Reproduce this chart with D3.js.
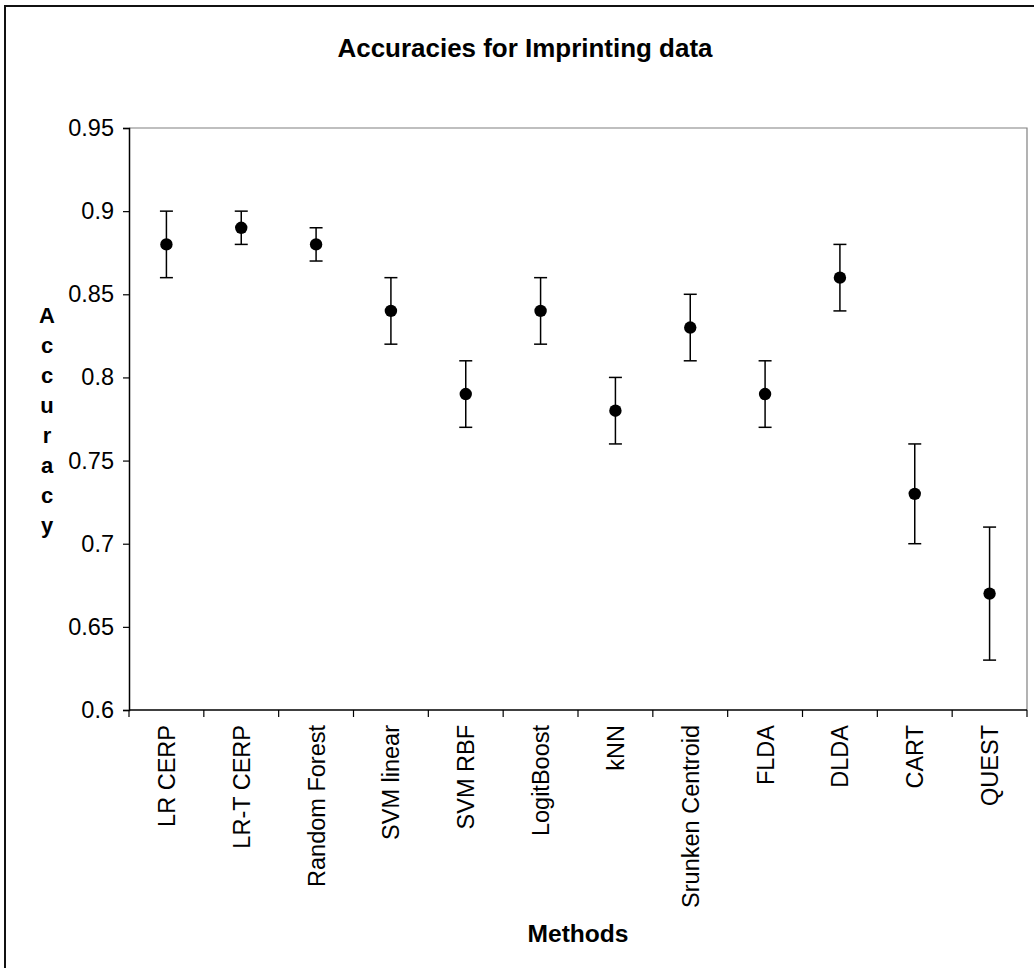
<!DOCTYPE html>
<html>
<head>
<meta charset="utf-8">
<script src="https://cdn.jsdelivr.net/npm/d3@7"></script>
<style>
  html, body { margin: 0; padding: 0; background: #fff; }
  svg { display: block; font-family: Arial, "Liberation Sans", sans-serif; }
</style>
</head>
<body>
<svg id="chart" width="1034" height="968"></svg>
<script>
// Classification accuracy per method, with lower/upper interval bounds
const methods = ["LR CERP", "LR-T CERP", "Random Forest", "SVM linear", "SVM RBF", "LogitBoost",
                 "kNN", "Srunken Centroid", "FLDA", "DLDA", "CART", "QUEST"];
const accuracy = [0.88, 0.89, 0.88, 0.84, 0.79, 0.84, 0.78, 0.83, 0.79, 0.86, 0.73, 0.67];
const lower    = [0.86, 0.88, 0.87, 0.82, 0.77, 0.82, 0.76, 0.81, 0.77, 0.84, 0.70, 0.63];
const upper    = [0.90, 0.90, 0.89, 0.86, 0.81, 0.86, 0.80, 0.85, 0.81, 0.88, 0.76, 0.71];
const yTicks   = [0.6, 0.65, 0.7, 0.75, 0.8, 0.85, 0.9, 0.95];

const svg = d3.select("#chart");
const plot = { left: 129, right: 1027, top: 128, bottom: 710 };

// Outer frame (right and bottom edges lie beyond the visible area)
svg.append("rect")
  .attr("x", 5).attr("y", 6).attr("width", 1040).attr("height", 980)
  .attr("fill", "none").attr("stroke", "#111").attr("stroke-width", 2);

const x = d3.scaleBand().domain(methods).range([plot.left, plot.right]).padding(0);
const y = d3.scaleLinear().domain([0.6, 0.95]).range([plot.bottom, plot.top]);

// Plot frame: top and right edges in grey
svg.append("path")
  .attr("d", `M${plot.left},${plot.top}H${plot.right}V${plot.bottom}`)
  .attr("fill", "none").attr("stroke", "#808080").attr("stroke-width", 1.2);

// Y axis
const yAxis = svg.append("g")
  .attr("transform", `translate(${plot.left},0)`)
  .call(d3.axisLeft(y).tickValues(yTicks).tickSize(6).tickPadding(9)
        .tickFormat(d => String(+d.toFixed(2))));
yAxis.select(".domain").attr("stroke", "#000").attr("stroke-width", 1.5);
yAxis.selectAll(".tick line").attr("stroke", "#000").attr("stroke-width", 1.2);
yAxis.selectAll(".tick text")
  .attr("font-size", 23.5).attr("fill", "#000")
  .attr("font-family", "Arial, 'Liberation Sans', sans-serif");

// X axis: ticks at category boundaries
const xAxisG = svg.append("g");
xAxisG.append("line")
  .attr("x1", plot.left).attr("x2", plot.right)
  .attr("y1", plot.bottom).attr("y2", plot.bottom)
  .attr("stroke", "#000").attr("stroke-width", 1.5);
const bounds = methods.map(m => x(m)).concat([x(methods[methods.length - 1]) + x.bandwidth()]);
xAxisG.selectAll("line.tick").data(bounds).join("line")
  .attr("class", "tick")
  .attr("x1", d => d).attr("x2", d => d)
  .attr("y1", plot.bottom).attr("y2", plot.bottom + 7)
  .attr("stroke", "#000").attr("stroke-width", 1.2);

// Rotated category labels
xAxisG.selectAll("text.cat").data(methods).join("text")
  .attr("class", "cat")
  .attr("transform", d => `translate(${x(d) + x.bandwidth() / 2 + 8.5},${plot.bottom + 15}) rotate(-90)`)
  .attr("text-anchor", "end")
  .attr("font-size", 23.5)
  .attr("fill", "#000")
  .text(d => d);

// Error bars and points
const data = methods.map((m, i) => ({ m, v: accuracy[i], lo: lower[i], hi: upper[i] }));
const capHalf = 6.5;
const marks = svg.append("g");
marks.selectAll("line.err").data(data).join("line")
  .attr("class", "err")
  .attr("x1", d => x(d.m) + x.bandwidth() / 2).attr("x2", d => x(d.m) + x.bandwidth() / 2)
  .attr("y1", d => y(d.lo)).attr("y2", d => y(d.hi))
  .attr("stroke", "#000").attr("stroke-width", 1.5);
["lo", "hi"].forEach(k => {
  marks.selectAll(`line.cap-${k}`).data(data).join("line")
    .attr("class", `cap-${k}`)
    .attr("x1", d => x(d.m) + x.bandwidth() / 2 - capHalf)
    .attr("x2", d => x(d.m) + x.bandwidth() / 2 + capHalf)
    .attr("y1", d => y(d[k])).attr("y2", d => y(d[k]))
    .attr("stroke", "#000").attr("stroke-width", 1.5);
});
marks.selectAll("circle").data(data).join("circle")
  .attr("cx", d => x(d.m) + x.bandwidth() / 2)
  .attr("cy", d => y(d.v))
  .attr("r", 6.2)
  .attr("fill", "#000");

// Title
svg.append("text")
  .attr("x", 525).attr("y", 57)
  .attr("text-anchor", "middle")
  .attr("font-size", 25).attr("font-weight", "bold")
  .attr("textLength", 375).attr("lengthAdjust", "spacingAndGlyphs")
  .text("Accuracies for Imprinting data");

// X axis title
svg.append("text")
  .attr("x", (plot.left + plot.right) / 2).attr("y", 942)
  .attr("text-anchor", "middle")
  .attr("font-size", 23.5).attr("font-weight", "bold")
  .attr("textLength", 101).attr("lengthAdjust", "spacingAndGlyphs")
  .text("Methods");

// Y axis title, letters stacked vertically
const yTitle = "Accuracy".split("");
svg.append("g").selectAll("text").data(yTitle).join("text")
  .attr("x", 47).attr("y", (d, i) => 323 + i * 30)
  .attr("text-anchor", "middle")
  .attr("font-size", 22).attr("font-weight", "bold")
  .text(d => d);
</script>
</body>
</html>
